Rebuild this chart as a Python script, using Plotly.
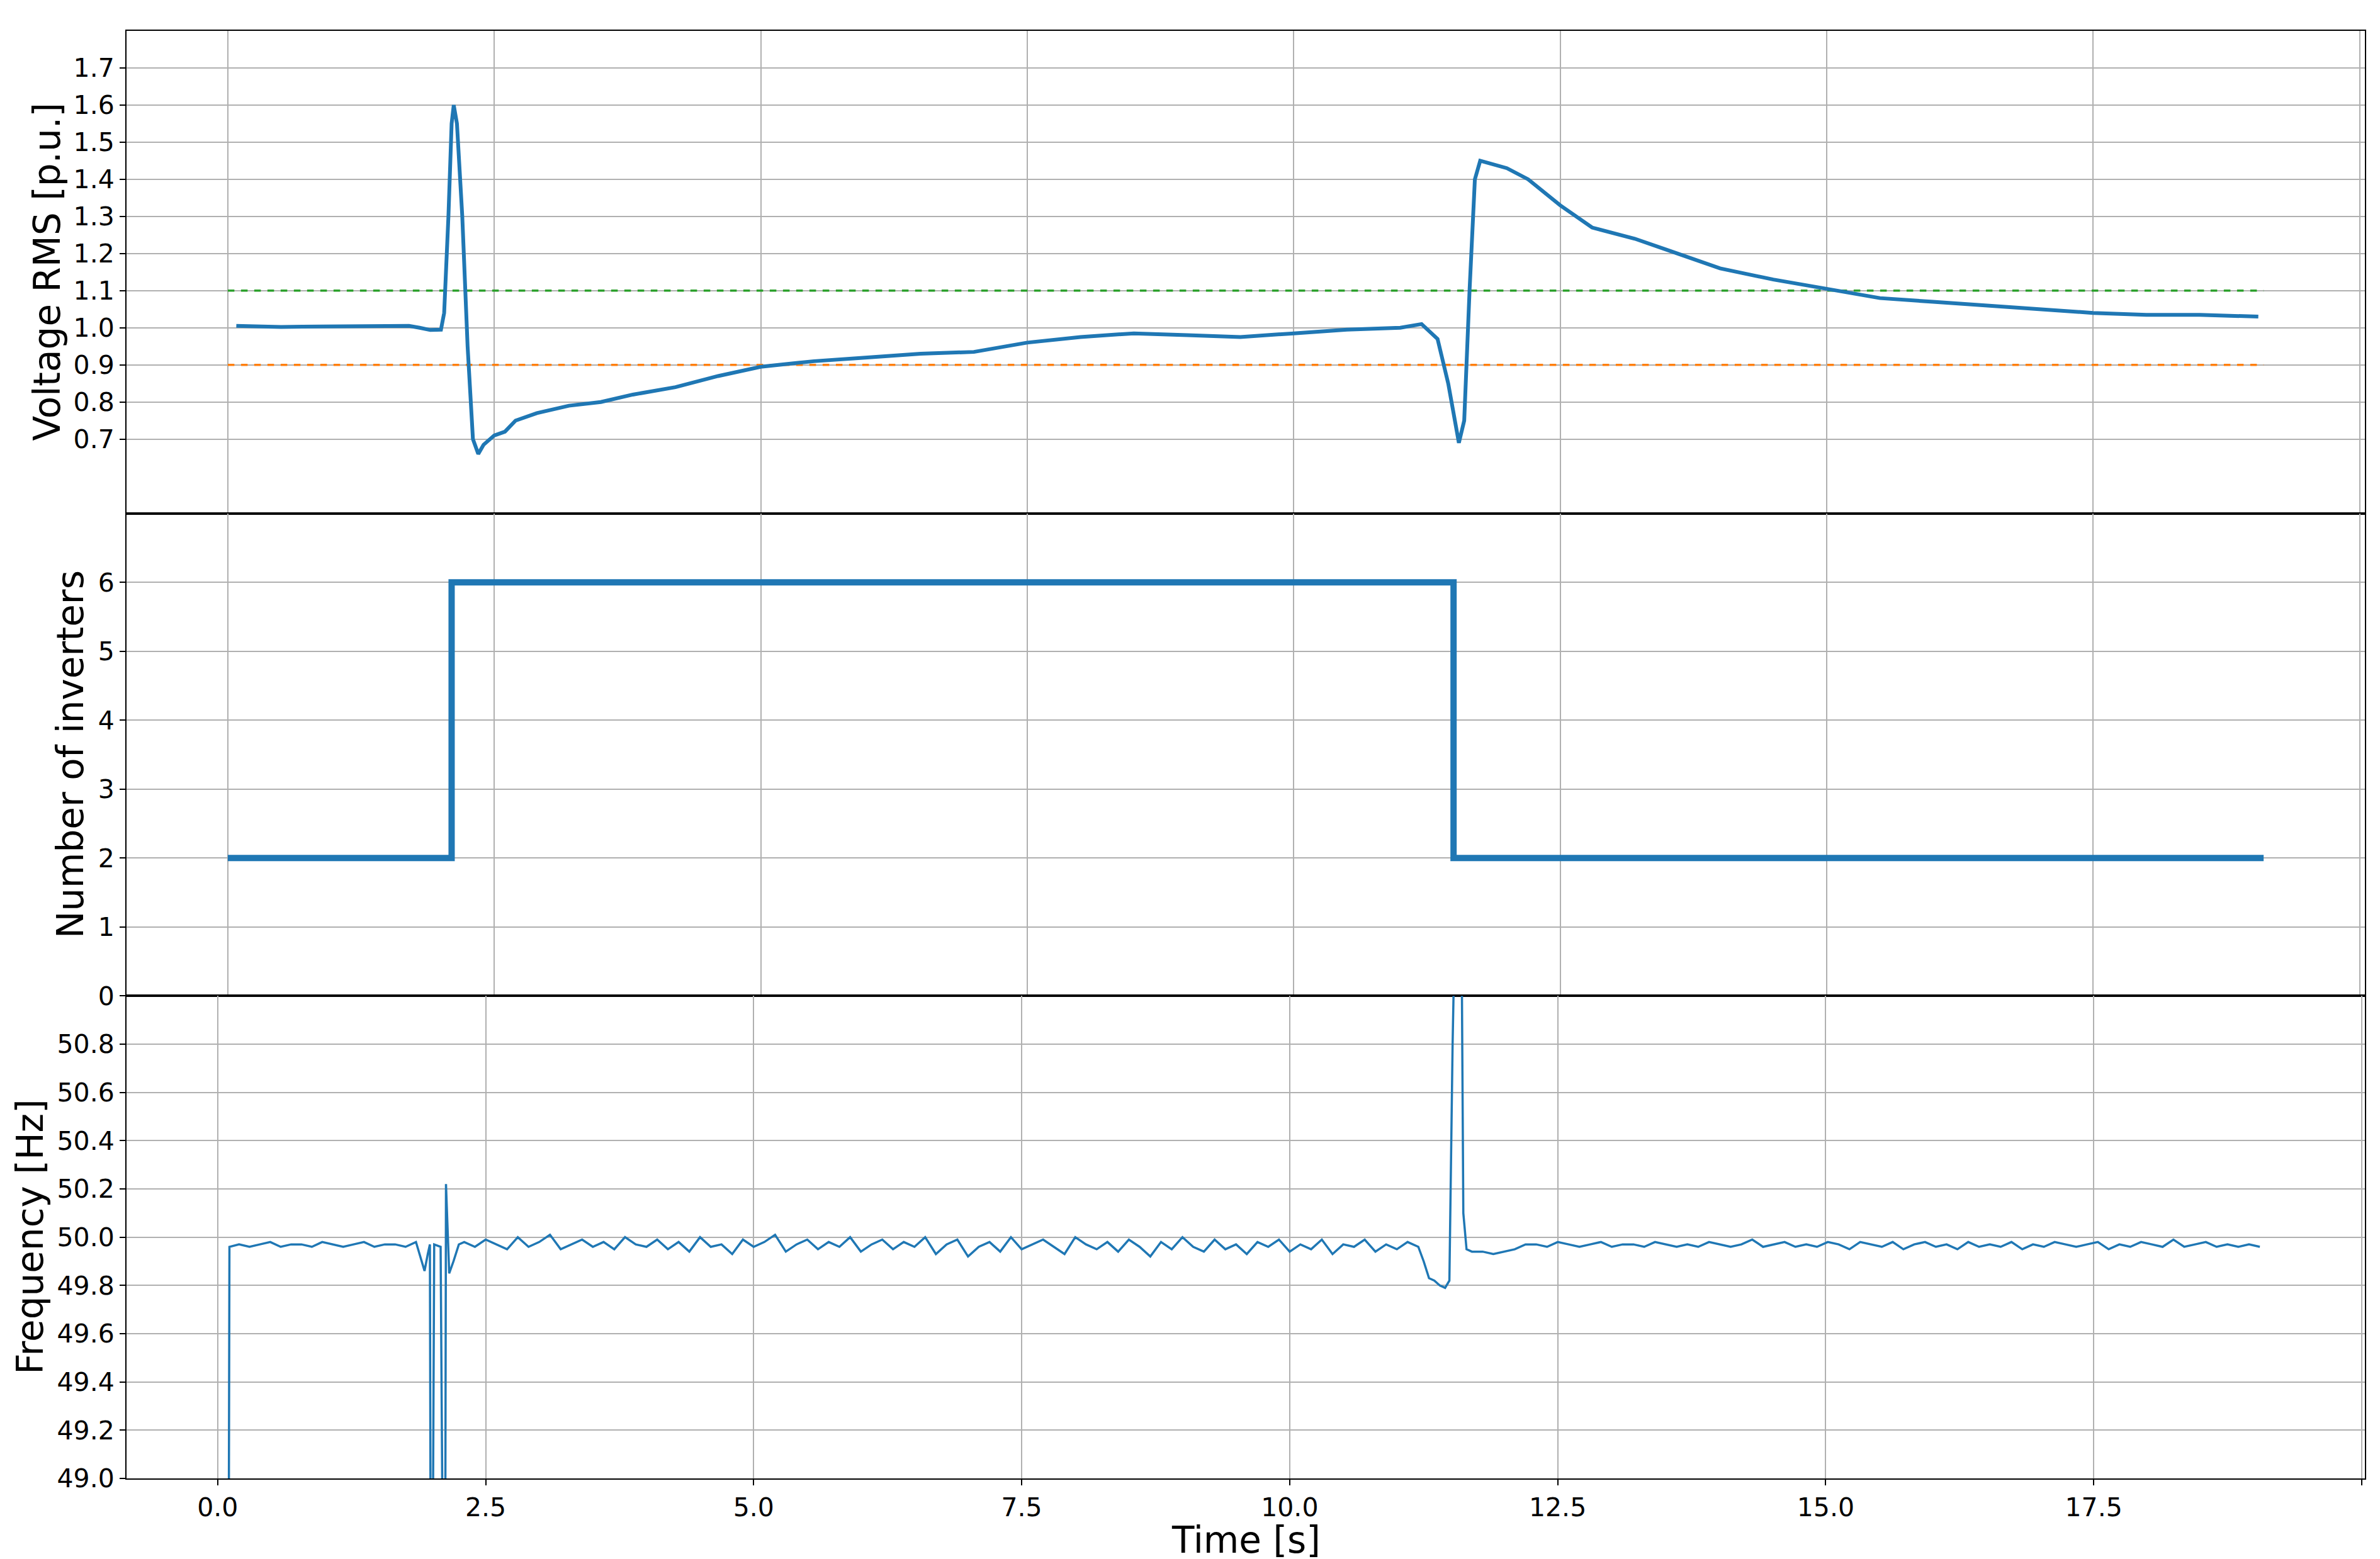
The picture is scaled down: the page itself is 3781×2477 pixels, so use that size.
import numpy as np
import plotly.graph_objects as go

# ---- Voltage RMS ----
v_t = [0.08,0.3,0.5,0.7,1.0,1.2,1.5,1.7,1.8,1.9,2.0,2.03,2.07,2.1,2.12,2.15,2.2,2.25,2.3,2.35,2.4,2.5,2.6,2.7,2.9,3.2,3.5,3.8,4.2,4.6,5.0,5.5,6.0,6.5,7.0,7.5,8.0,8.5,9.0,9.5,10.0,10.5,11.0,11.2,11.35,11.45,11.55,11.6,11.65,11.7,11.75,12.0,12.2,12.5,12.8,13.2,13.5,14.0,14.5,15.0,15.5,16.0,16.5,17.0,17.5,18.0,18.5,19.05]
v_val = [1.005,1.003,1.002,1.003,1.003,1.004,1.004,1.005,1.0,0.994,0.995,1.04,1.3,1.55,1.6,1.55,1.3,0.95,0.7,0.66,0.685,0.71,0.72,0.75,0.77,0.79,0.80,0.82,0.84,0.87,0.895,0.91,0.92,0.93,0.935,0.96,0.975,0.985,0.98,0.975,0.985,0.995,1.0,1.01,0.97,0.85,0.69,0.75,1.1,1.4,1.45,1.43,1.40,1.33,1.27,1.24,1.21,1.16,1.13,1.105,1.08,1.07,1.06,1.05,1.04,1.035,1.035,1.03]
lim_t = [0.0, 19.1]
upper_lim = [1.1, 1.1]
lower_lim = [0.9, 0.9]

# ---- Number of inverters ----
n_t = [0.0, 2.1, 2.1, 11.5, 11.5, 19.1]
n_val = [2, 2, 6, 6, 2, 2]

# ---- Frequency ----
f_t1 = [0.1,0.11]
f_v1 = [48.0,49.96]
f_noise1 = [49.97,49.96,49.97,49.98,49.96,49.97,49.97,49.96,49.98,49.97,49.96,49.97,49.98,49.96,49.97,49.97,49.96,49.98]
f_t_ev1 = [1.9,1.93,1.96,1.98,1.99,2.0,2.02,2.08,2.11,2.12,2.13,2.16,2.2,2.25]
f_v_ev1 = [49.9,49.86,49.93,49.97,48.0,48.0,49.97,49.96,48.0,48.0,50.22,49.85,49.9,49.97]
f_noise2 = [49.98,49.96,49.99,49.97,49.95,50.0,49.96,49.98,50.01,49.95,49.97,49.99,49.96,49.98,49.95,50.0,49.97,49.96,49.99,49.95,
            49.98,49.94,50.0,49.96,49.97,49.93,49.99,49.96,49.98,50.01,49.94,49.97,49.99,49.95,49.98,49.96,50.0,49.94,49.97,49.99,
            49.95,49.98,49.96,50.0,49.93,49.97,49.99,49.92,49.96,49.98,49.94,50.0,49.95,49.97,49.99,49.96,49.93,50.0,49.97,49.95,
            49.98,49.94,49.99,49.96,49.92,49.98,49.95,50.0,49.96,49.94,49.99,49.95,49.97,49.93,49.98,49.96,49.99,49.94,49.97,49.95,
            49.99,49.93,49.97,49.96,49.99,49.94,49.97,49.95,49.98,49.96]
f_t_ev2 = [11.25,11.3,11.35,11.4,11.45,11.49,11.52,11.55,11.6,11.62,11.65,11.7,11.8,11.9,12.0,12.1,12.2]
f_v_ev2 = [49.9,49.83,49.82,49.8,49.79,49.82,50.8,51.5,51.5,50.1,49.95,49.94,49.94,49.93,49.94,49.95,49.97]
f_noise3 = [49.97,49.96,49.98,49.97,49.96,49.97,49.98,49.96,49.97,49.97,49.96,49.98,49.97,49.96,49.97,49.96,49.98,49.97,49.96,49.97,
            49.99,49.96,49.97,49.98,49.96,49.97,49.96,49.98,49.97,49.95,49.98,49.97,49.96,49.98,49.95,49.97,49.98,49.96,49.97,49.95,
            49.98,49.96,49.97,49.96,49.98,49.95,49.97,49.96,49.98,49.97,49.96,49.97,49.98,49.95,49.97,49.96,49.98,49.97,49.96,49.99,
            49.96,49.97,49.98,49.96,49.97,49.96,49.97,49.96]

f_t = f_t1 + list(np.round(np.linspace(0.2, 1.85, len(f_noise1)), 3)) + f_t_ev1 \
      + list(np.round(np.linspace(2.3, 11.2, len(f_noise2)), 3)) + f_t_ev2 \
      + list(np.round(np.linspace(12.3, 19.05, len(f_noise3)), 3))
f_val = f_v1 + f_noise1 + f_v_ev1 + f_noise2 + f_v_ev2 + f_noise3

BLUE = "#1f77b4"
fig = go.Figure()
fig.add_trace(go.Scatter(x=lim_t, y=upper_lim, mode="lines", line=dict(color="#2ca02c", width=3.5, dash="dash"), xaxis="x", yaxis="y"))
fig.add_trace(go.Scatter(x=lim_t, y=lower_lim, mode="lines", line=dict(color="#ff7f0e", width=3.5, dash="dash"), xaxis="x", yaxis="y"))
fig.add_trace(go.Scatter(x=v_t, y=v_val, mode="lines", line=dict(color=BLUE, width=6), xaxis="x", yaxis="y"))
fig.add_trace(go.Scatter(x=n_t, y=n_val, mode="lines", line=dict(color=BLUE, width=10), xaxis="x2", yaxis="y2"))
fig.add_trace(go.Scatter(x=f_t, y=f_val, mode="lines", line=dict(color=BLUE, width=3.5), xaxis="x3", yaxis="y3"))

grid = dict(showgrid=True, gridcolor="#b0b0b0", gridwidth=2, showline=True, linecolor="black", linewidth=2,
            mirror=True, ticklen=9, tickwidth=2, tickcolor="black", zeroline=False,
            tickfont=dict(family="DejaVu Sans", size=41, color="black"))
tfont = dict(family="DejaVu Sans", size=58, color="black")

fig.update_layout(
    width=3781, height=2477, showlegend=False,
    plot_bgcolor="white", paper_bgcolor="white",
    margin=dict(l=193, r=32, t=41, b=136, autoexpand=False),
    xaxis=dict(domain=[0, 1], range=[-0.95, 20.05], anchor="y", dtick=2.5, showticklabels=False, ticks="", **grid),
    yaxis=dict(domain=[2/3, 1], range=[0.5, 1.8], tickvals=[0.7,0.8,0.9,1.0,1.1,1.2,1.3,1.4,1.5,1.6,1.7], tickformat=".1f",
               ticks="outside", **grid),
    xaxis2=dict(domain=[0, 1], range=[-0.95, 20.05], anchor="y2", dtick=2.5, showticklabels=False, ticks="", **grid),
    yaxis2=dict(domain=[1/3, 2/3], range=[0, 7], tickvals=[0,1,2,3,4,5,6], ticks="outside", **grid),
    xaxis3=dict(domain=[0, 1], range=[-0.85, 20.03], anchor="y3", dtick=2.5, tickformat=".1f", ticks="outside", **grid),
    yaxis3=dict(domain=[0, 1/3], range=[49.0, 51.0], tickvals=[49.0,49.2,49.4,49.6,49.8,50.0,50.2,50.4,50.6,50.8], tickformat=".1f",
                ticks="outside", **grid),
)
titles = [("Voltage RMS [p.u.]", 5/6, -0.0354), ("Number of inverters", 0.5, -0.025), ("Frequency [Hz]", 1/6, -0.043)]
for txt, yy, xx in titles:
    fig.add_annotation(text=txt, xref="paper", yref="paper", x=xx, y=yy, textangle=-90,
                       showarrow=False, font=tfont, xanchor="center", yanchor="middle")
fig.add_annotation(text="Time [s]", xref="paper", yref="paper", x=0.5, y=0, yshift=-62, showarrow=False,
                   font=tfont, xanchor="center", yanchor="top")
fig.write_html("out.html")
